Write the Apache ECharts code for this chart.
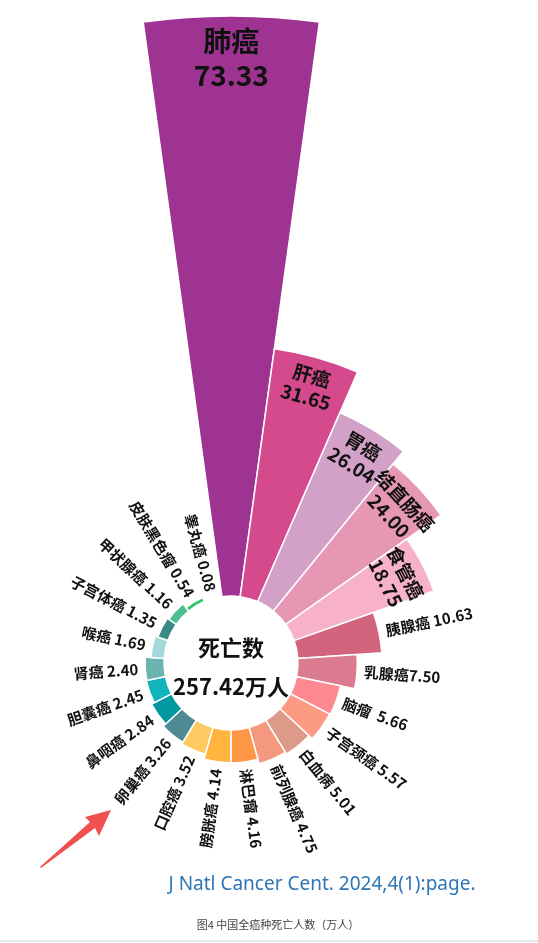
<!DOCTYPE html>
<html>
<head>
<meta charset="utf-8">
<script src="https://cdn.jsdelivr.net/npm/echarts@6/dist/echarts.min.js"></script>
<style>
  html, body { margin: 0; padding: 0; background: #fff; }
  #chart { width: 538px; height: 943px; }
</style>
</head>
<body>
<div id="chart"></div>
<script>
// 癌种名称
const names = ['肺癌', '肝癌', '胃癌', '结直肠癌', '食管癌', '胰腺癌', '乳腺癌', '脑瘤', '子宫颈癌', '白血病',
  '前列腺癌', '淋巴瘤', '膀胱癌', '口腔癌', '卵巢癌', '鼻咽癌', '胆囊癌', '肾癌', '喉癌', '子宫体癌',
  '甲状腺癌', '皮肤黑色瘤', '睾丸癌'];
// 死亡人数（万人）
const deaths = [73.33, 31.65, 26.04, 24.00, 18.75, 10.63, 7.50, 5.66, 5.57, 5.01,
  4.75, 4.16, 4.14, 3.52, 3.26, 2.84, 2.45, 2.40, 1.69, 1.35,
  1.16, 0.54, 0.08];
const colors = ['#9E3391', '#D54A8D', '#D3A1C7', '#E597B3', '#F7B2CA', '#D3647D', '#DB7B8F', '#FD8890', '#FD9A84', '#DE9A88',
  '#F4987F', '#FE9645', '#FFB43F', '#FFCA62', '#4E8A94', '#03979F', '#10B4BA', '#6CB3B0', '#A4D9DB', '#3B8985',
  '#4DBD92', '#2CC673', '#2CC673'];
const totalText = '257.42万人';

const chart = echarts.init(document.getElementById('chart'));
const startAngle = 97.8;
const step = 360 / names.length;
const insideCount = 5;
const font = 'Noto Sans CJK SC';
const sepMap = { '乳腺癌': '', '脑瘤': '  ' };

const barData = deaths.map(function (v, i) {
  const item = { value: v, itemStyle: { color: colors[i] } };
  if (i < insideCount) {
    item.label = {
      position: 'insideEnd',
      distance: 8,
      fontSize: i === 0 ? 28 : 19,
      lineHeight: i === 0 ? 34 : 22
    };
  } else {
    //外侧标签沿半径方向（极坐标柱的数字旋转按弧度算）
    let mid = startAngle - (i + 0.5) * step;
    while (mid <= -180) mid += 360;
    const right = Math.cos(mid * Math.PI / 180) >= 0;
    item.label = {
      position: 'end',
      distance: 7,
      rotate: (right ? mid : mid + 180) * Math.PI / 180,
      align: right ? 'left' : 'right',
      verticalAlign: 'middle',
      fontSize: 15
    };
  }
  return item;
});

const option = {
  backgroundColor: '#fff',
  polar: { center: [231, 663], radius: [67, 647] },
  angleAxis: {
    type: 'category',
    data: names,
    startAngle: startAngle,
    clockwise: true,
    show: false
  },
  radiusAxis: { type: 'value', min: 0, max: 73.33, show: false },
  series: [{
    type: 'bar',
    coordinateSystem: 'polar',
    barCategoryGap: '0%',
    data: barData,
    itemStyle: { borderColor: '#fff', borderWidth: 1.5 },
    label: {
      show: true,
      color: '#111',
      fontWeight: 'bold',
      fontFamily: font,
      formatter: function (p) {
        const val = p.value.toFixed(2);
        if (p.dataIndex < insideCount) return p.name + '\n' + val;
        const sep = sepMap[p.name] !== undefined ? sepMap[p.name] : ' ';
        return p.name + sep + val;
      }
    }
  }],
  graphic: [
    { type: 'text', x: 231, y: 648, style: { text: '死亡数', align: 'center', verticalAlign: 'middle', font: 'bold 22px "Noto Sans CJK SC"', fill: '#111' } },
    { type: 'text', x: 231, y: 687, style: { text: totalText, align: 'center', verticalAlign: 'middle', font: 'bold 22px "Noto Sans CJK SC"', fill: '#111' } },
    { type: 'text', x: 322, y: 885, style: { text: 'J Natl Cancer Cent. 2024,4(1):page.', align: 'center', verticalAlign: 'middle', font: '19px "Noto Sans"', fill: '#2E75B6' } },
    { type: 'text', x: 278, y: 925, style: { text: '图4 中国全癌种死亡人数（万人）', align: 'center', verticalAlign: 'middle', font: '11px "Noto Sans CJK SC"', fill: '#444' } },
    { type: 'line', shape: { x1: 0, y1: 941, x2: 538, y2: 941 }, style: { stroke: '#cccccc', lineWidth: 1 } },
    // 红色箭头
    { type: 'polygon', shape: { points: [[40, 867], [90, 822], [85, 817], [111, 810], [99, 836], [95, 828], [41, 868]] }, style: { fill: '#F0504F' } }
  ]
};
chart.setOption(option);
</script>
</body>
</html>
